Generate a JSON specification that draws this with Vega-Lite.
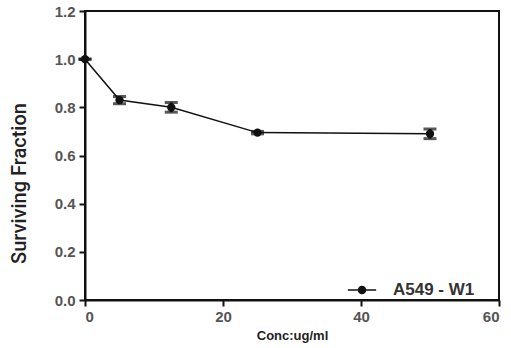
{
  "$schema": "https://vega.github.io/schema/vega-lite/v6.json",
  "autosize": "none",
  "width": 414,
  "height": 289,
  "padding": {"left": 85, "top": 11, "right": 12, "bottom": 48},
  "background": "white",
  "config": {
    "view": {"stroke": "#111", "strokeWidth": 2},
    "font": "Liberation Sans",
    "axis": {
      "domainColor": "#111", "domainWidth": 2, "tickColor": "#111", "tickWidth": 2, "tickSize": 6,
      "labelFont": "Liberation Sans", "labelFontWeight": "bold", "labelFontSize": 15, "labelColor": "#555",
      "titleFont": "Liberation Sans", "titleFontWeight": "bold", "titleColor": "#222", "grid": false
    }
  },
  "data": {"values": [
    {"conc": 0, "sf": 1.0, "lo": 1.0, "hi": 1.0, "series": "A549 - W1"},
    {"conc": 5, "sf": 0.83, "lo": 0.815, "hi": 0.845, "series": "A549 - W1"},
    {"conc": 12.5, "sf": 0.80, "lo": 0.78, "hi": 0.82, "series": "A549 - W1"},
    {"conc": 25, "sf": 0.695, "lo": 0.69, "hi": 0.70, "series": "A549 - W1"},
    {"conc": 50, "sf": 0.69, "lo": 0.67, "hi": 0.71, "series": "A549 - W1"}
  ]},
  "layer": [
    {
      "mark": {"type": "line", "strokeWidth": 1.5},
      "encoding": {
        "x": {"field": "conc", "type": "quantitative", "scale": {"domain": [0, 60]}, "title": "Conc:ug/ml",
              "axis": {"values": [0, 20, 40, 60], "titleFontSize": 13, "titlePadding": 5, "labelPadding": 3}},
        "y": {"field": "sf", "type": "quantitative", "scale": {"domain": [0, 1.2]}, "title": "Surviving Fraction",
              "axis": {"values": [0, 0.2, 0.4, 0.6, 0.8, 1.0, 1.2], "format": ".1f",
                       "titleFont": "Roboto", "titleFontWeight": 500, "titleFontSize": 20,
                       "titleX": -56, "titleY": 172, "labelPadding": 4}},
        "color": {"field": "series", "type": "nominal", "scale": {"range": ["#111"]},
                  "legend": {"title": null, "orient": "none", "legendX": 262, "legendY": 264,
                             "symbolType": "M-1,0H1M-0.25,0A0.25,0.25 0 1,1 0.25,0A0.25,0.25 0 1,1 -0.25,0Z",
                             "symbolSize": 800, "symbolStrokeWidth": 1.5, "symbolFillColor": "#111", "symbolStrokeColor": "#111",
                             "labelFont": "Liberation Sans", "labelFontWeight": "bold", "labelFontSize": 17, "labelColor": "#333", "labelOffset": 16}}
      }
    },
    {
      "mark": {"type": "point", "filled": true, "size": 70, "opacity": 1},
      "encoding": {
        "x": {"field": "conc", "type": "quantitative", "title": "Conc:ug/ml"},
        "y": {"field": "sf", "type": "quantitative", "title": "Surviving Fraction"},
        "color": {"field": "series", "type": "nominal"}
      }
    },
    {
      "mark": {"type": "errorbar", "ticks": {"size": 13, "thickness": 3, "color": "#111"}, "rule": {"strokeWidth": 3, "color": "#111"}},
      "encoding": {
        "x": {"field": "conc", "type": "quantitative", "title": "Conc:ug/ml"},
        "y": {"field": "lo", "type": "quantitative", "title": "Surviving Fraction"},
        "y2": {"field": "hi"}
      }
    }
  ]
}
